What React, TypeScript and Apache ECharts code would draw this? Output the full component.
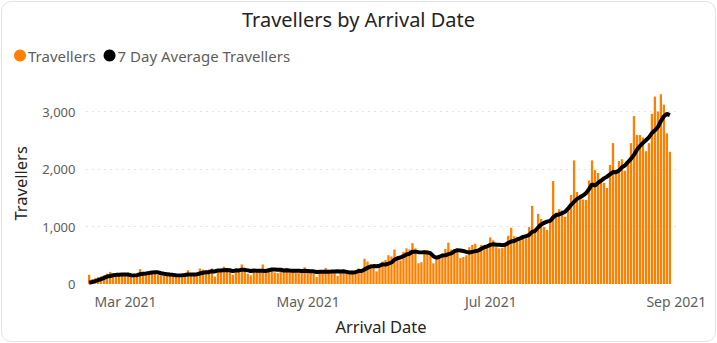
import React, { useEffect, useRef } from 'react';
import * as echarts from 'echarts';

// Daily series start (UTC) – one value per day
const startDate = Date.UTC(2021, 1, 18);
const DAY = 86400000;

// Travellers per arrival day
const travellersFeb = [160, 80, 100, 120, 130, 150, 180, 210, 170, 150, 140];
const travellersMar = [150, 160, 170, 130, 150, 170, 260, 210, 200, 220, 190, 180, 160, 150, 140, 160, 170, 150, 130, 150, 160, 170, 240, 150, 160, 130, 270, 250, 230, 250, 270];
const travellersApr = [130, 260, 250, 300, 240, 220, 160, 230, 250, 340, 280, 180, 150, 200, 220, 240, 340, 260, 270, 240, 200, 190, 230, 260, 280, 230, 210, 200, 190, 220];
const travellersMay = [290, 250, 200, 190, 120, 230, 210, 280, 250, 230, 200, 140, 220, 230, 210, 170, 230, 240, 270, 220, 440, 390, 340, 280, 220, 330, 390, 420, 500, 480, 600];
const travellersJun = [420, 410, 560, 620, 600, 710, 620, 360, 380, 590, 580, 500, 360, 420, 490, 530, 610, 720, 600, 610, 560, 450, 470, 500, 640, 680, 700, 620, 680, 650];
const travellersJul = [620, 810, 760, 640, 620, 630, 700, 840, 980, 830, 820, 760, 800, 790, 990, 1360, 960, 1220, 1130, 990, 940, 1080, 1790, 1240, 1300, 1280, 1170, 1310, 1550, 2150, 1600];
const travellersAug = [1520, 1470, 1460, 1800, 2150, 1980, 1930, 1780, 1760, 1670, 2070, 2450, 1950, 2140, 2170, 1970, 2100, 2450, 2920, 2590, 2590, 2550, 2310, 2450, 2960, 3260, 3000, 3300, 3120, 2620, 2300];

// 7 day average travellers
const avgFeb = [23, 34, 49, 66, 84, 106, 131, 139, 151, 159, 161];
const avgMar = [164, 166, 164, 153, 150, 153, 170, 179, 184, 191, 200, 204, 203, 187, 177, 171, 164, 159, 151, 150, 151, 156, 167, 164, 166, 166, 183, 196, 204, 206, 223];
const avgApr = [219, 237, 234, 241, 243, 239, 223, 237, 236, 249, 246, 237, 227, 233, 231, 230, 230, 227, 240, 253, 253, 249, 247, 236, 239, 233, 229, 229, 229, 227];
const avgMay = [231, 227, 223, 220, 209, 214, 213, 211, 211, 216, 217, 220, 219, 221, 211, 200, 200, 206, 224, 224, 254, 280, 304, 311, 309, 317, 341, 339, 354, 374, 420];
const avgJun = [449, 460, 484, 513, 527, 560, 563, 554, 550, 554, 549, 534, 484, 456, 474, 496, 499, 519, 533, 569, 589, 583, 574, 559, 547, 559, 571, 580, 613, 639];
const avgJul = [656, 680, 691, 683, 683, 676, 683, 714, 739, 749, 774, 794, 819, 831, 853, 907, 926, 983, 1036, 1063, 1084, 1097, 1159, 1199, 1210, 1231, 1257, 1310, 1377, 1429, 1480];
const avgAug = [1511, 1539, 1580, 1650, 1736, 1711, 1759, 1796, 1837, 1867, 1906, 1949, 1944, 1974, 2030, 2060, 2121, 2176, 2243, 2334, 2399, 2453, 2501, 2551, 2624, 2673, 2731, 2833, 2914, 2959, 2937];

const travellers = [...travellersFeb, ...travellersMar, ...travellersApr, ...travellersMay, ...travellersJun, ...travellersJul, ...travellersAug];
const avgTravellers = [...avgFeb, ...avgMar, ...avgApr, ...avgMay, ...avgJun, ...avgJul, ...avgAug];

const monthNames = ['Jan', 'Feb', 'Mar', 'Apr', 'May', 'Jun', 'Jul', 'Aug', 'Sep', 'Oct', 'Nov', 'Dec'];
const xTickLabels = ['Mar 2021', 'May 2021', 'Jul 2021', 'Sep 2021'];
const yTicks = [0, 1000, 2000, 3000];

const FONT = 'Noto Sans';

export default function App() {
  const ref = useRef<HTMLDivElement>(null);
  useEffect(() => {
    if (!ref.current) return;
    const chart = echarts.init(ref.current, undefined, { renderer: 'svg' });
    const barData = travellers.map((v, i) => [startDate + i * DAY, v]);
    const lineData = avgTravellers.map((v, i) => [startDate + i * DAY, v]);
    const n = travellers.length;
    chart.setOption({
      animation: false,
      useUTC: true,
      textStyle: { fontFamily: FONT },
      title: {
        text: 'Travellers by Arrival Date',
        left: 'center',
        top: 4,
        textStyle: { fontFamily: FONT, fontSize: 20, fontWeight: 'normal', color: '#252423' },
      },
      legend: {
        left: 9,
        top: 43,
        icon: 'circle',
        itemWidth: 12,
        itemHeight: 12,
        itemGap: 8,
        textStyle: { fontFamily: FONT, fontSize: 15, color: '#605E5C', padding: [0, 0, 0, -3] },
        data: ['Travellers', '7 Day Average Travellers'],
      },
      grid: { left: 86.5, right: 41.5, top: 82.75, bottom: 59 },
      xAxis: {
        type: 'time',
        min: startDate - DAY / 2,
        max: startDate + n * DAY + DAY / 2,
        name: 'Arrival Date',
        nameLocation: 'middle',
        nameGap: 34,
        nameTextStyle: { fontFamily: FONT, fontSize: 16.5, color: '#252423' },
        axisLine: { show: false },
        axisTick: { show: false },
        splitLine: { show: false },
        axisLabel: {
          fontFamily: FONT,
          fontSize: 14,
          color: '#605E5C',
          margin: 10,
          padding: [0, 0, 0, 7],
          hideOverlap: false,
          formatter: (value: number) => {
            const d = new Date(value);
            if (d.getUTCDate() !== 1 || d.getUTCHours() !== 0) return '';
            const s = monthNames[d.getUTCMonth()] + ' ' + d.getUTCFullYear();
            return xTickLabels.includes(s) ? s : '';
          },
        },
      },
      yAxis: {
        type: 'value',
        min: 0,
        max: 3500,
        interval: 1000,
        name: 'Travellers',
        nameLocation: 'middle',
        nameGap: 58,
        nameTextStyle: { fontFamily: FONT, fontSize: 16.5, color: '#252423' },
        axisLine: { show: false },
        axisTick: { show: false },
        axisLabel: {
          fontFamily: FONT,
          fontSize: 13,
          color: '#605E5C',
          margin: 11,
          showMaxLabel: false,
          formatter: (v: number) => (yTicks.includes(v) ? v.toLocaleString('en-US') : ''),
        },
        splitLine: {
          show: true,
          showMinLine: false,
          showMaxLine: false,
          lineStyle: { color: '#C8C8C8', type: [1, 5], width: 1 },
        },
      },
      series: [
        {
          name: 'Travellers',
          type: 'bar',
          data: barData,
          barWidth: 2.3,
          itemStyle: { color: '#FF8000' },
          emphasis: { disabled: true },
        },
        {
          name: '7 Day Average Travellers',
          type: 'line',
          data: lineData,
          showSymbol: false,
          symbol: 'circle',
          lineStyle: { color: '#000000', width: 4 },
          itemStyle: { color: '#000000' },
          emphasis: { disabled: true },
        },
      ],
    });
    return () => chart.dispose();
  }, []);
  return (
    <div style={{ position: 'fixed', left: 0, top: 0, width: 717, height: 343, background: '#fff' }}>
      <div ref={ref} style={{ position: 'absolute', left: 0, top: 0, width: 717, height: 343 }} />
      <div
        style={{
          position: 'absolute', left: 1, top: 1, width: 715, height: 341, boxSizing: 'border-box',
          border: '1px solid #E3E3E3', borderRadius: 10, pointerEvents: 'none',
        }}
      />
    </div>
  );
}
